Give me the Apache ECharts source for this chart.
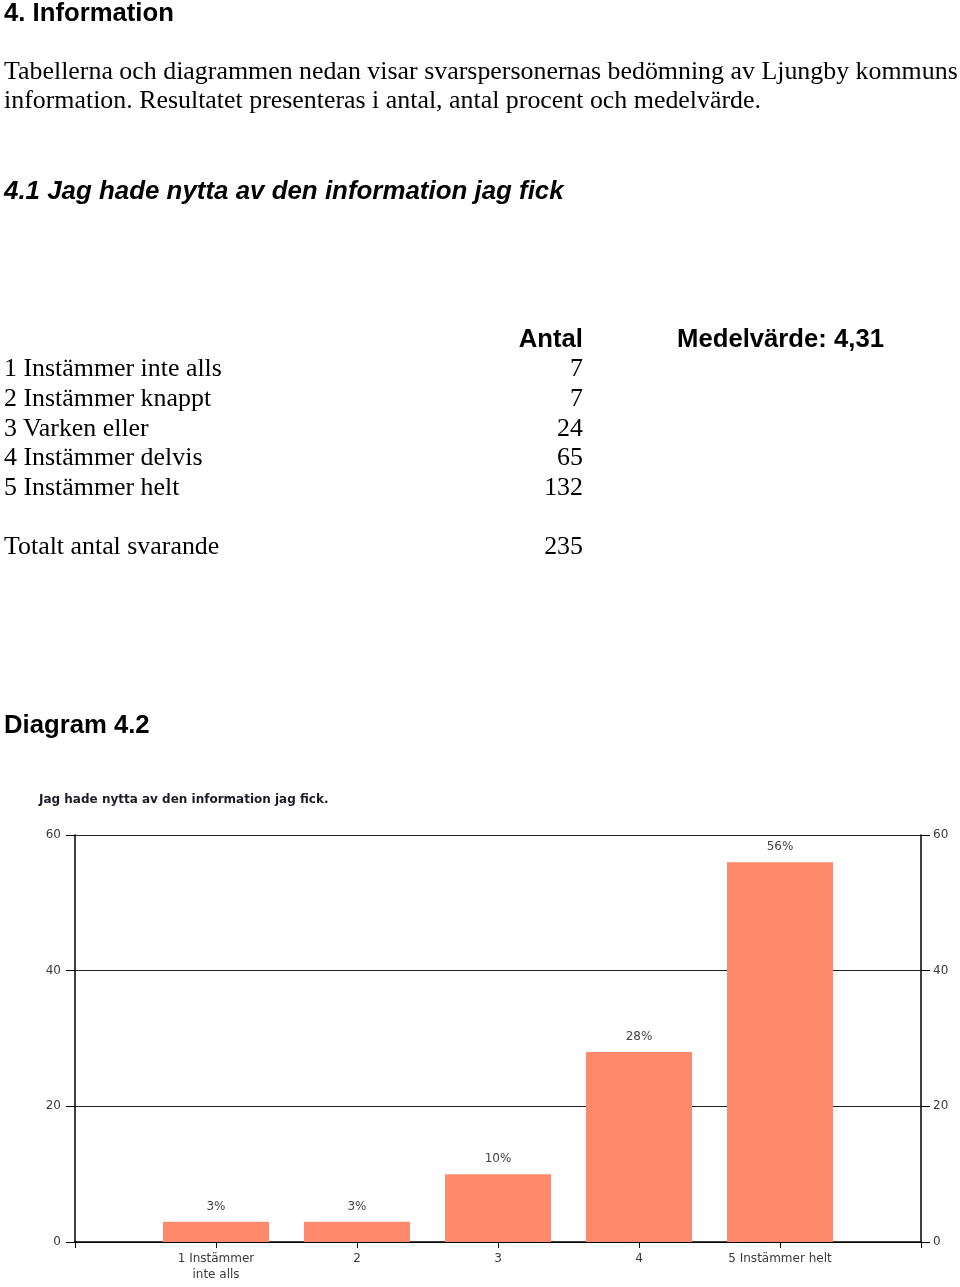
<!DOCTYPE html>
<html>
<head>
<meta charset="utf-8">
<script src="https://cdn.jsdelivr.net/npm/echarts@6/dist/echarts.min.js"></script>
<style>
html,body{margin:0;padding:0;width:960px;height:1287px;background:#fff;overflow:hidden;}
#chart{position:absolute;left:0;top:0;width:960px;height:1287px;}
.t{position:absolute;white-space:nowrap;color:#000;line-height:30px;}
.serif{font-family:"Liberation Serif","Times New Roman",serif;font-size:25.9px;}
.sans{font-family:"Liberation Sans",Arial,sans-serif;font-size:25.7px;font-weight:bold;}
.r{text-align:right;}
</style>
</head>
<body>
<div id="chart"></div>
<div id="page"></div>
<script>
// ---- data ----
const chartTitle = 'Jag hade nytta av den information jag fick.';
const categories = ['1 Instämmer\ninte alls', '2', '3', '4', '5 Instämmer helt'];
const percent = [3, 3, 10, 28, 56];
const yTicks = [0, 20, 40, 60];

const tableLabels = ['1 Instämmer inte alls', '2 Instämmer knappt', '3 Varken eller', '4 Instämmer delvis', '5 Instämmer helt'];
const tableCounts = [7, 7, 24, 65, 132];
const totalLabel = 'Totalt antal svarande';
const totalCount = 235;
const meanText = 'Medelvärde: 4,31';

// ---- page text ----
const page = document.getElementById('page');
function addText(txt, cls, left, centerY, extra) {
  const d = document.createElement('div');
  d.className = 't ' + cls;
  d.textContent = txt;
  d.style.top = (centerY - 15) + 'px';
  if (extra && extra.right !== undefined) {
    d.style.right = (960 - extra.right) + 'px';
  } else {
    d.style.left = left + 'px';
  }
  if (extra && extra.style) Object.assign(d.style, extra.style);
  page.appendChild(d);
}
addText('4. Information', 'sans', 4, 12);
addText('Tabellerna och diagrammen nedan visar svarspersonernas bedömning av Ljungby kommuns', 'serif', 4, 71);
addText('information. Resultatet presenteras i antal, antal procent och medelvärde.', 'serif', 4, 100);
addText('4.1 Jag hade nytta av den information jag fick', 'sans', 4, 190, {style:{fontStyle:'italic', fontSize:'25.9px'}});
addText('Antal', 'sans r', 0, 338, {right:583});
addText(meanText, 'sans', 677, 338);
tableLabels.forEach((l, i) => {
  const y = 368 + i * 29.8;
  addText(l, 'serif', 4, y);
  addText(String(tableCounts[i]), 'serif r', 0, y, {right:583});
});
addText(totalLabel, 'serif', 4, 546);
addText(String(totalCount), 'serif r', 0, 546, {right:583});
addText('Diagram 4.2', 'sans', 4, 724);

// ---- chart ----
const chart = echarts.init(document.getElementById('chart'), null, {renderer:'canvas'});
const labelFont = {fontFamily:'DejaVu Sans', fontSize:12, color:'#3a3a3a'};
function yAxisDef(pos, margin, split) {
  return {
    type:'value', position:pos, min:yTicks[0], max:yTicks[yTicks.length-1], interval:20,
    axisLine:{show:true, lineStyle:{color:'#000', width:1.5}},
    axisTick:{show:true, length:9, lineStyle:{color:'#000'}},
    splitLine:{show:split, lineStyle:{color:'#222', width:1}},
    axisLabel:Object.assign({margin:margin}, labelFont)
  };
}
chart.setOption({
  animation:false,
  title:{
    text:chartTitle, left:34, top:789,
    textStyle:{fontFamily:'DejaVu Sans', fontWeight:'bold', fontSize:12, color:'#1c1c28'}
  },
  grid:{left:75, right:39, top:835, bottom:45, containLabel:false},
  xAxis:{
    type:'value', min:0, max:6, interval:1,
    axisLine:{show:true, lineStyle:{color:'#000', width:1.5}},
    axisTick:{show:true, length:6, lineStyle:{color:'#000'}},
    splitLine:{show:false},
    axisLabel:Object.assign({margin:9, lineHeight:16, formatter:v => categories[v-1] || ''}, labelFont)
  },
  yAxis:[ yAxisDef('left', 14, true), yAxisDef('right', 12, false) ],
  series:[{
    type:'bar',
    data:categories.map((c, i) => [i + 1, percent[i]]),
    barWidth:106,
    itemStyle:{color:'#FF8A6B'},
    label:{show:true, position:'top', distance:9, formatter:p => p.value[1] + '%',
      fontFamily:'DejaVu Sans', fontSize:12, color:'#444'}
  }]
});
</script>
</body>
</html>
